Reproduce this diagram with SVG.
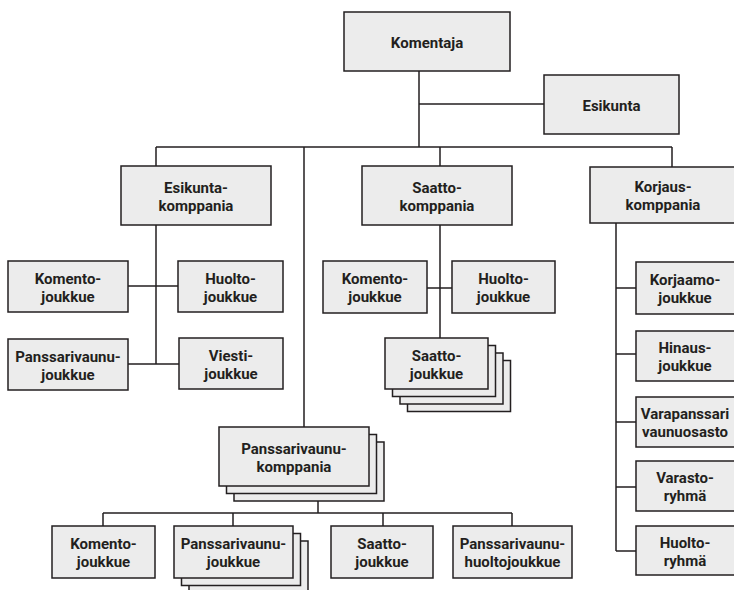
<svg xmlns="http://www.w3.org/2000/svg" width="734" height="590" viewBox="0 0 734 590">
<style>
.b{fill:#ececec;stroke:#231f20;stroke-width:1.5}
.c{fill:none;stroke:#231f20;stroke-width:1.5}
text{font-family:Roboto,"Liberation Sans",sans-serif;font-weight:bold;font-size:15px;fill:#231f20;text-anchor:middle}
</style>
<rect width="734" height="590" fill="#fff"/>
<g id="connectors">
<path class="c" d="M419,71V147M419,104H544M156,147H672M156,147V166M304,147V427M440,147V166M672,147V167"/>
<path class="c" d="M156,225V364M128,286H178M128,364H179"/>
<path class="c" d="M440,225V338M427,288H452"/>
<path class="c" d="M616,223V551M616,288H636M616,354H636M616,422H636M616,487H636M616,551H636"/>
<path class="c" d="M318,501V513M103,513H512M103,513V526M233,513V526M383,513V526M512,513V526"/>
</g>
<g id="komentaja"><rect class="b" x="344" y="12" width="166" height="59"/><text x="427" y="48">Komentaja</text></g>
<g id="esikunta"><rect class="b" x="544" y="75" width="135" height="59"/><text x="611.5" y="111">Esikunta</text></g>
<g id="esikuntakomppania"><rect class="b" x="121" y="166" width="150" height="59"/><text x="196" y="192.5">Esikunta-</text><text x="196" y="210.5">komppania</text></g>
<g id="ek-komentojoukkue"><rect class="b" x="8" y="261" width="120" height="51"/><text x="68" y="283.5">Komento-</text><text x="68" y="301.5">joukkue</text></g>
<g id="ek-huoltojoukkue"><rect class="b" x="178" y="261" width="105" height="51"/><text x="230.5" y="283.5">Huolto-</text><text x="230.5" y="301.5">joukkue</text></g>
<g id="ek-panssarivaunujoukkue"><rect class="b" x="8" y="339" width="120" height="51"/><text x="68" y="361.5">Panssarivaunu-</text><text x="68" y="379.5">joukkue</text></g>
<g id="ek-viestijoukkue"><rect class="b" x="179" y="338" width="104" height="51"/><text x="231" y="360.5">Viesti-</text><text x="231" y="378.5">joukkue</text></g>
<g id="saattokomppania"><rect class="b" x="362" y="166" width="150" height="59"/><text x="437" y="192.5">Saatto-</text><text x="437" y="210.5">komppania</text></g>
<g id="sk-komentojoukkue"><rect class="b" x="323" y="261" width="104" height="52"/><text x="375" y="284">Komento-</text><text x="375" y="302">joukkue</text></g>
<g id="sk-huoltojoukkue"><rect class="b" x="452" y="261" width="103" height="52"/><text x="503.5" y="284">Huolto-</text><text x="503.5" y="302">joukkue</text></g>
<g id="sk-saattojoukkue"><rect class="b" x="407.5" y="360.5" width="103" height="51"/><rect class="b" x="400" y="353" width="103" height="51"/><rect class="b" x="392.5" y="345.5" width="103" height="51"/><rect class="b" x="385" y="338" width="103" height="51"/><text x="436.5" y="360.5">Saatto-</text><text x="436.5" y="378.5">joukkue</text></g>
<g id="korjauskomppania"><rect class="b" x="590" y="167" width="146" height="56"/><text x="663" y="192">Korjaus-</text><text x="663" y="210">komppania</text></g>
<g id="korjaamojoukkue"><rect class="b" x="636" y="262" width="100" height="52"/><text x="685" y="285">Korjaamo-</text><text x="685" y="303">joukkue</text></g>
<g id="hinausjoukkue"><rect class="b" x="636" y="331" width="100" height="50"/><text x="685" y="353">Hinaus-</text><text x="685" y="371">joukkue</text></g>
<g id="varapanssarivaunuosasto"><rect class="b" x="636" y="397" width="100" height="50"/><text x="685" y="419">Varapanssari</text><text x="685" y="437">vaunuosasto</text></g>
<g id="varastoryhma"><rect class="b" x="636" y="461" width="100" height="50"/><text x="685" y="483">Varasto-</text><text x="685" y="501">ryhmä</text></g>
<g id="huoltoryhma"><rect class="b" x="636" y="526" width="100" height="49"/><text x="685" y="547.5">Huolto-</text><text x="685" y="565.5">ryhmä</text></g>
<g id="panssarivaunukomppania"><rect class="b" x="234" y="442" width="150" height="59"/><rect class="b" x="226.5" y="434.5" width="150" height="59"/><rect class="b" x="219" y="427" width="150" height="59"/><text x="294" y="453.5">Panssarivaunu-</text><text x="294" y="471.5">komppania</text></g>
<g id="pk-komentojoukkue"><rect class="b" x="52" y="526" width="103" height="52"/><text x="103.5" y="549">Komento-</text><text x="103.5" y="567">joukkue</text></g>
<g id="pk-panssarivaunujoukkue"><rect class="b" x="189" y="541" width="119" height="52"/><rect class="b" x="181.5" y="533.5" width="119" height="52"/><rect class="b" x="174" y="526" width="119" height="52"/><text x="233.5" y="549">Panssarivaunu-</text><text x="233.5" y="567">joukkue</text></g>
<g id="pk-saattojoukkue"><rect class="b" x="331" y="526" width="102" height="52"/><text x="382" y="549">Saatto-</text><text x="382" y="567">joukkue</text></g>
<g id="pk-huoltojoukkue"><rect class="b" x="453" y="526" width="119" height="52"/><text x="512.5" y="549">Panssarivaunu-</text><text x="512.5" y="567">huoltojoukkue</text></g>
</svg>
